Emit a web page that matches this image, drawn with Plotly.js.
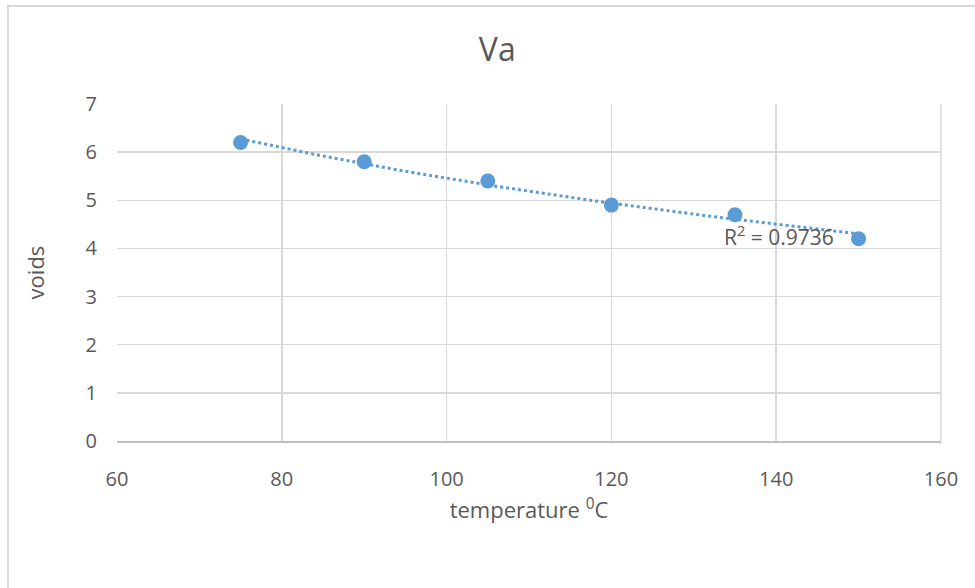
<!DOCTYPE html>
<html>
<head>
<meta charset="utf-8">
<script src="https://cdn.plot.ly/plotly-3.0.1.min.js"></script>
<style>
  html, body { margin: 0; padding: 0; background: #fff; }
  #wrap { position: relative; width: 975px; height: 588px; }
  #chart { position: absolute; left: 0; top: 0; width: 975px; height: 588px; }
  #frame { position: absolute; left: 7px; top: 5px; width: 980px; height: 600px;
           border-left: 2px solid #d9d9d9; border-top: 2px solid #d9d9d9; pointer-events: none; }
</style>
</head>
<body>
<div id="wrap">
  <div id="chart"></div>
  <div id="frame"></div>
</div>
<script>
// Data
const temperature = [75, 90, 105, 120, 135, 150];
const voids = [6.2, 5.8, 5.4, 4.9, 4.7, 4.2];
const xTicks = [60, 80, 100, 120, 140, 160];
const yTicks = [0, 1, 2, 3, 4, 5, 6, 7];
const rSquaredLabel = "R<sup>2</sup> = 0.9736";

// Logarithmic trendline (least squares on ln x), as in the spreadsheet
const lnx = temperature.map(Math.log);
const n = lnx.length;
const mx = lnx.reduce((a, b) => a + b, 0) / n;
const my = voids.reduce((a, b) => a + b, 0) / n;
let sxy = 0, sxx = 0;
for (let i = 0; i < n; i++) { sxy += (lnx[i] - mx) * (voids[i] - my); sxx += (lnx[i] - mx) ** 2; }
const slope = sxy / sxx, intercept = my - slope * mx;
const xMin = Math.min(...temperature), xMax = Math.max(...temperature);
const trendX = [], trendY = [];
for (let k = 0; k <= 60; k++) {
  const x = xMin + (xMax - xMin) * k / 60;
  trendX.push(x); trendY.push(intercept + slope * Math.log(x));
}

const font = "Open Sans, Noto Sans, sans-serif";
const textColor = "#595959";
const blue = "#5b9bd5";

const traces = [
  { x: trendX, y: trendY, mode: "lines", type: "scatter",
    line: { color: blue, width: 3, dash: "dot" }, hoverinfo: "skip", showlegend: false },
  { x: temperature, y: voids, mode: "markers", type: "scatter",
    marker: { color: blue, size: 15 }, showlegend: false }
];

const layout = {
  width: 975, height: 588,
  margin: { l: 117, r: 34, t: 104, b: 147 },
  paper_bgcolor: "#fff", plot_bgcolor: "#fff",
  font: { family: font, color: textColor, size: 20 },
  title: { text: "Va", font: { family: font, size: 32, color: textColor },
           x: 0.51, xanchor: "center", y: 1 - 50 / 588, yanchor: "middle" },
  xaxis: {
    range: [60, 160], tickvals: xTicks, ticktext: xTicks.map(String),
    showgrid: true, gridcolor: "#d9d9d9", gridwidth: 1.5,
    zeroline: false, showline: true, linecolor: "#bfbfbf", linewidth: 1.5,
    ticks: "", ticklabelstandoff: 19,
    tickfont: { family: font, size: 20, color: textColor },
    title: { text: "temperature <sup>0</sup>C", font: { family: font, size: 22, color: textColor }, standoff: 12 }
  },
  yaxis: {
    range: [0, 7], tickvals: yTicks, ticktext: yTicks.map(String),
    showgrid: true, gridcolor: "#d9d9d9", gridwidth: 1.5,
    zeroline: false, showline: false,
    ticks: "", ticklabelstandoff: 19,
    tickfont: { family: font, size: 20, color: textColor },
    title: { text: "voids", font: { family: font, size: 22, color: textColor }, standoff: 34 }
  },
  shapes: [
    { type: "line", xref: "paper", yref: "paper", x0: 1, x1: 1, y0: 0, y1: 1,
      line: { color: "#d9d9d9", width: 1.5 } }
  ],
  annotations: [
    { x: 140.3, y: 4.26, xref: "x", yref: "y", text: rSquaredLabel, showarrow: false,
      font: { family: font, size: 21, color: textColor } }
  ]
};

Plotly.newPlot("chart", traces, layout, { displayModeBar: false, staticPlot: true });
</script>
</body>
</html>
